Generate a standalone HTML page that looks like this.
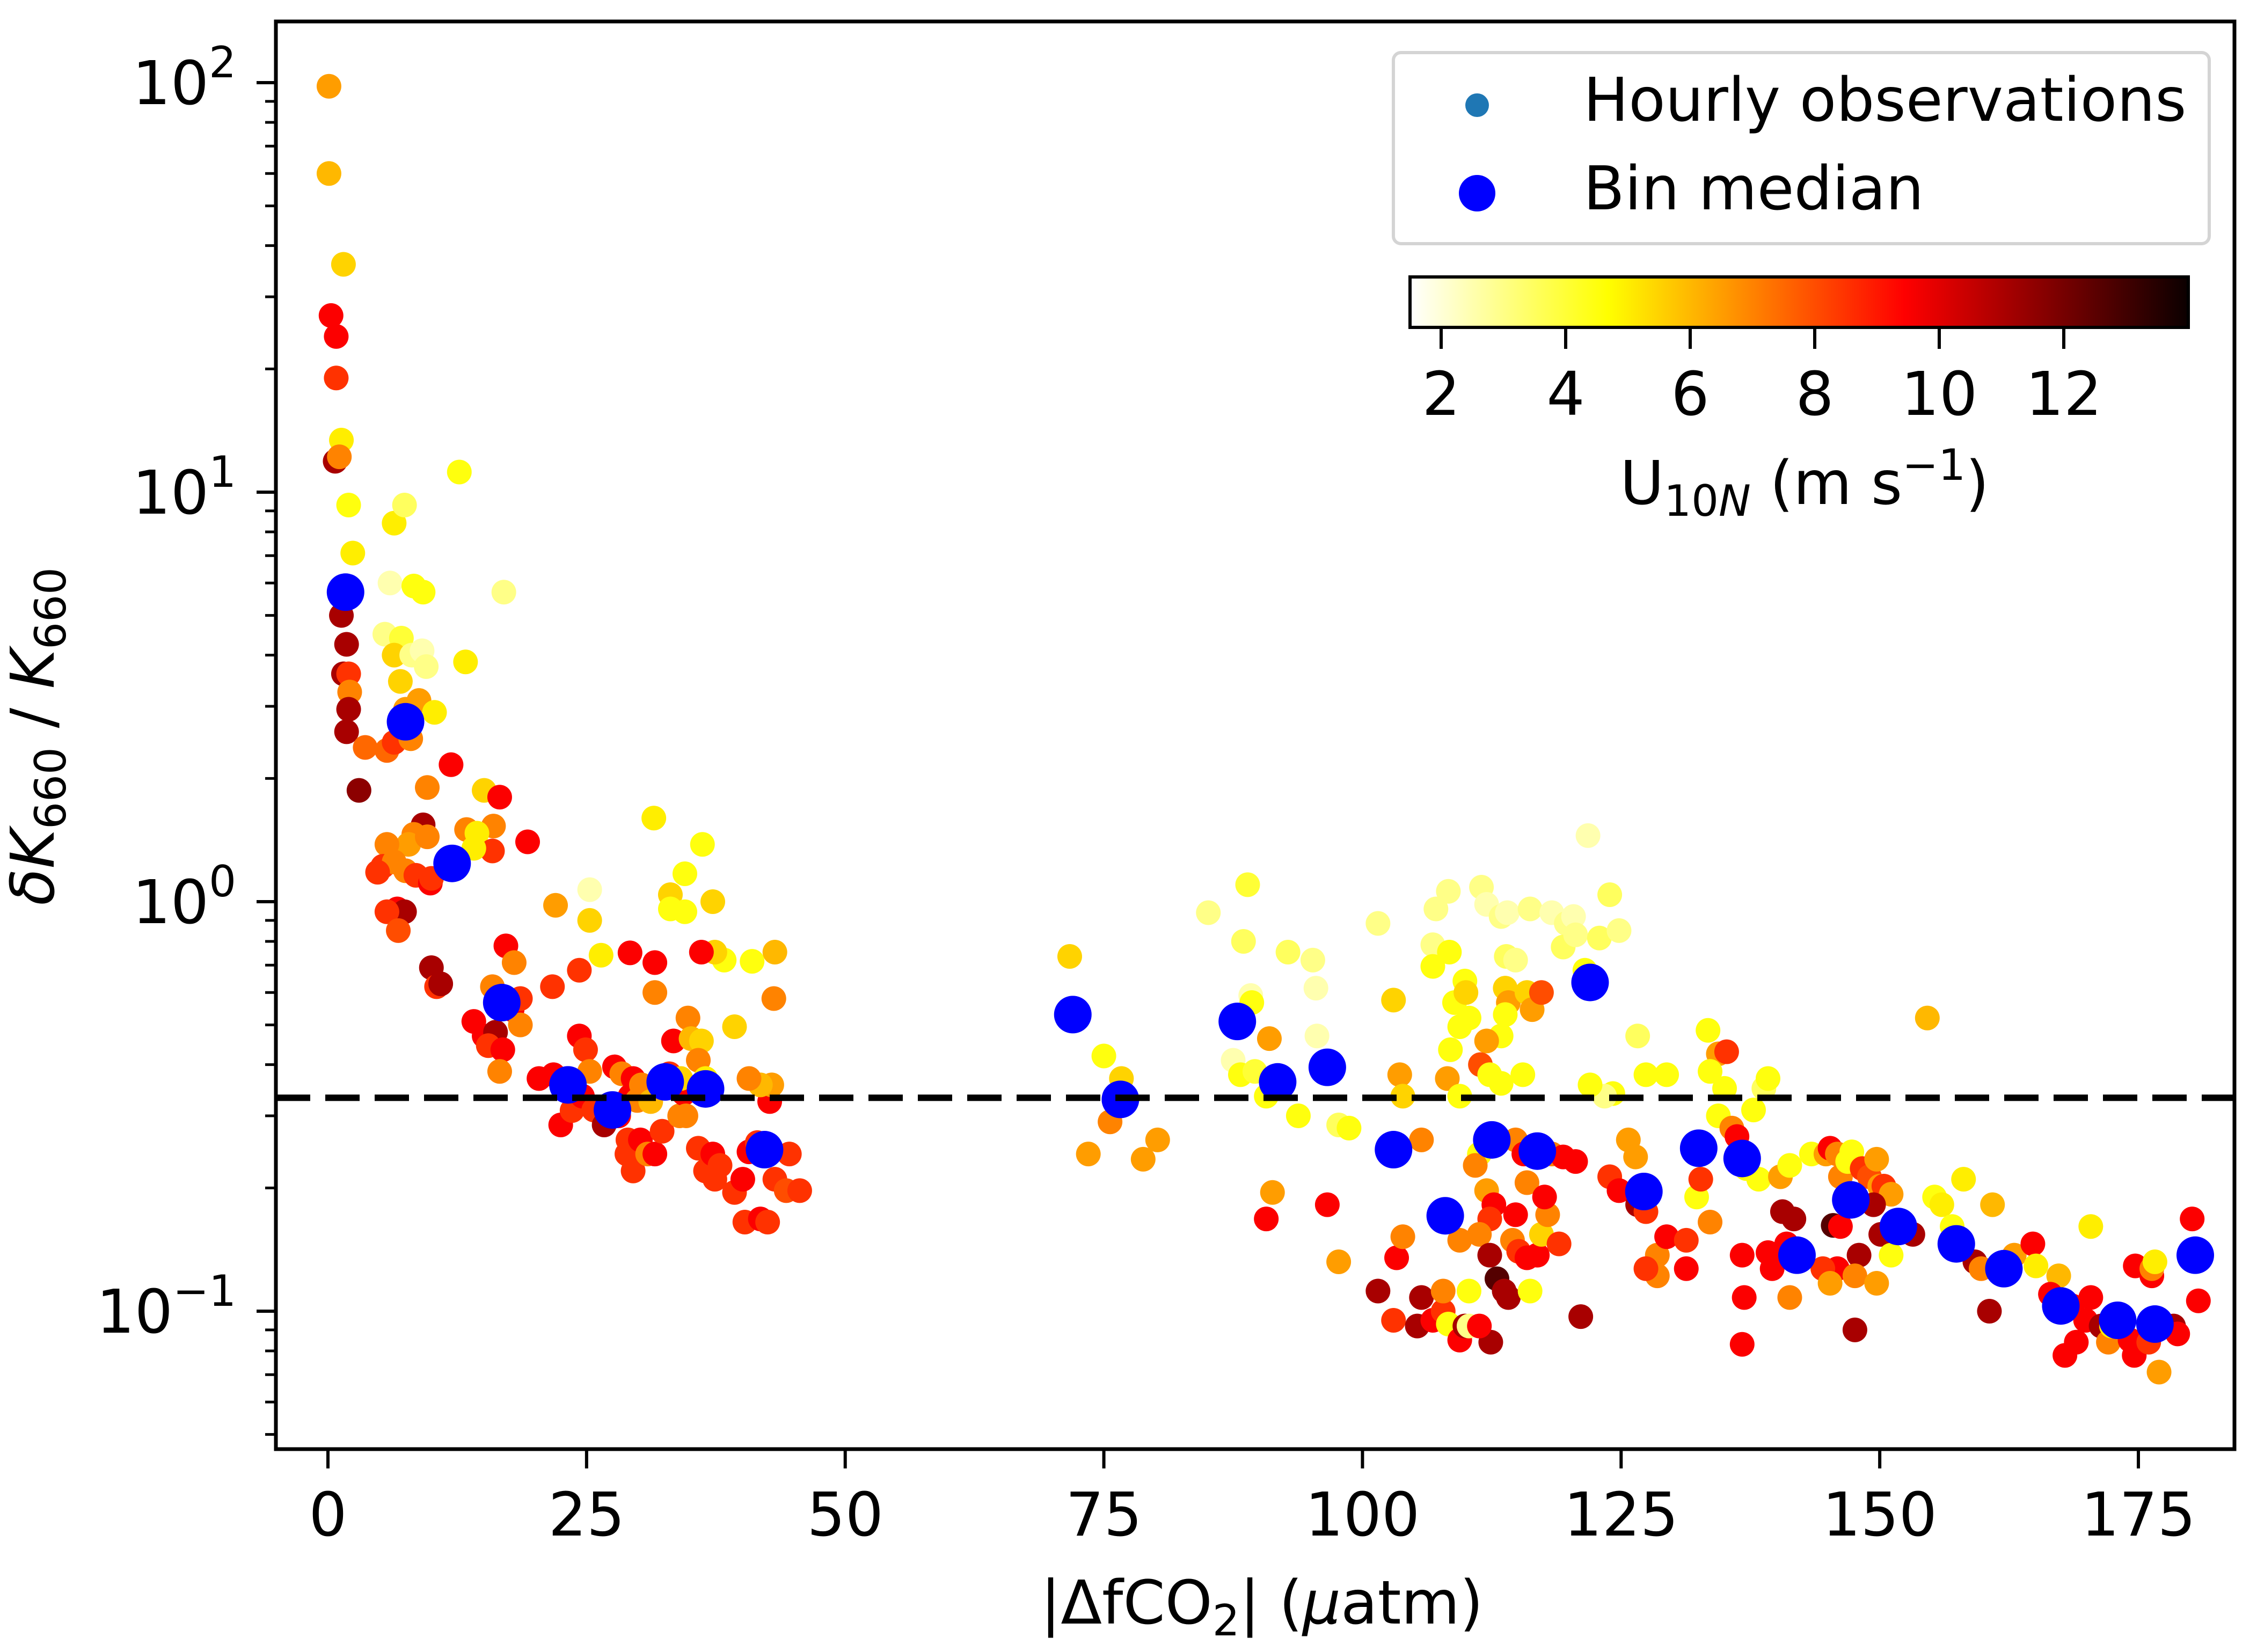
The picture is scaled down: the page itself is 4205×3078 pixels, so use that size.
<!DOCTYPE html>
<html><head><meta charset="utf-8"><style>
html,body{margin:0;padding:0;background:#fff;}
svg{display:block;font-family:"DejaVu Sans","Liberation Sans",sans-serif;}
</style></head><body>
<svg id="chart" width="4205" height="3078" viewBox="0 0 4205 3078" xmlns="http://www.w3.org/2000/svg">
<defs>
<linearGradient id="hotr" x1="0" x2="1" y1="0" y2="0">
<stop offset="0" stop-color="#ffffff"/><stop offset="0.254" stop-color="#ffff00"/>
<stop offset="0.635" stop-color="#ff0000"/><stop offset="1" stop-color="#0b0000"/>
</linearGradient>
<clipPath id="plotclip"><rect x="514" y="40" width="3649" height="2660"/></clipPath>
</defs>
<rect x="0" y="0" width="4205" height="3078" fill="#fff"/>
<g id="points" clip-path="url(#plotclip)"></g>
<g id="medians" clip-path="url(#plotclip)"></g>
<line id="refline" x1="514" x2="4163" stroke="#000" stroke-width="12" stroke-dasharray="64 28"/>
<g id="axes"></g>
<rect x="514" y="40" width="3649" height="2660" fill="none" stroke="#000" stroke-width="7"/>
<text x="2351" y="3025" font-size="112" text-anchor="middle">|ΔfCO<tspan font-size="80" dy="22">2</tspan><tspan dy="-22">| (</tspan><tspan font-style="italic">μ</tspan>atm)</text>
<text transform="translate(100,1372) rotate(-90)" font-size="112" text-anchor="middle"><tspan font-style="italic">δK</tspan><tspan font-size="80" dy="22">660</tspan><tspan dy="-22"> / </tspan><tspan font-style="italic">K</tspan><tspan font-size="80" dy="22">660</tspan></text>
<g>
<rect x="2596" y="98" width="1520" height="356" rx="14" fill="#fff" fill-opacity="0.9" stroke="#d4d4d4" stroke-width="6"/>
<circle cx="2752" cy="196" r="22" fill="#1f77b4"/>
<text x="2950" y="225" font-size="112">Hourly observations</text>
<circle cx="2752" cy="360" r="34" fill="#0000ff"/>
<text x="2950" y="390" font-size="112">Bin median</text>
</g>
<g id="cbar">
<rect x="2627" y="516" width="1450" height="94" fill="url(#hotr)" stroke="#000" stroke-width="6"/>
<text x="3362" y="939" font-size="112" text-anchor="middle">U<tspan font-size="80" dy="22">10</tspan><tspan font-size="80" font-style="italic">N</tspan><tspan dy="-22"> (m s</tspan><tspan font-size="80" dy="-45">−1</tspan><tspan dy="45">)</tspan></text>
</g>
</svg>
<script>
const xTicks = [0, 25, 50, 75, 100, 125, 150, 175];
const yDecades = [-1, 0, 1, 2];
const cbarTicks = [2, 4, 6, 8, 10, 12];
const refValue = 0.332;
const medX = [1.7,7.5,12,16.8,23.2,27.5,32.6,36.5,42.2,72,76.6,87.9,91.8,96.6,103,108,112.5,116.9,122,127.2,132.5,136.7,142,147.2,151.8,157.4,162,167.5,173,176.6,180.5];
const medY = [5.7,2.75,1.24,0.567,0.357,0.31,0.363,0.349,0.248,0.53,0.329,0.51,0.363,0.394,0.248,0.171,0.262,0.246,0.635,0.196,0.25,0.236,0.137,0.187,0.161,0.146,0.127,0.103,0.095,0.093,0.137];
const obs = [
[0.1,98,6.5],[0.1,60,6],[1.5,36,5.5],[0.3,27,9.5],[0.8,24,9.5],[0.8,19,8.5],[1.3,13.4,5],[0.7,11.9,11],[1.1,12.2,7],[2,9.3,4.5],[2.4,7.1,5],[6.4,8.4,5],[7.4,9.3,3.5],[12.7,11.2,4.5],[17,5.7,3],[6,6,2.5],[8.3,5.9,4.5],[9.2,5.7,4.5],[5.5,4.5,3],[7.1,4.4,4],[6.4,4,5.5],[8.1,4,3],[9.1,4.1,2.5],[9.5,3.75,3],[13.3,3.85,5],[7,3.45,5.5],[8.8,3.1,6.5],[7.5,2.95,6.5],[10.3,2.9,5],
[1.5,5.7,9.5],[1.3,5,11],[1.8,4.25,11],[1.5,3.6,11],[2,3.6,8.5],[2.1,3.25,7],[2,2.95,11],[1.8,2.6,11],[3.6,2.38,7.5],[3,1.87,11.5],[5.7,2.34,7.5],[6.4,2.45,8.5],[8,2.5,7],[11.9,2.16,9.5],[9.6,1.9,7],[15.1,1.87,5.5],[16.6,1.8,9.5],[16,1.53,7],[13.4,1.5,7],[14.4,1.47,5],[9.2,1.54,11],[8.3,1.46,7],[7.8,1.38,6.5],[9.6,1.44,7],[5.7,1.38,7],[5.3,1.22,8.5],[6.4,1.25,7],[7.5,1.19,7],[4.8,1.18,8.5],[8.5,1.16,8.5],[9.9,1.11,9.5],[6.7,0.96,9.5],[7.4,0.945,11],[5.7,0.945,8.5],[6.8,0.85,8],[10,1.14,8.5],[12,1.24,7],[15.9,1.33,8.5],[19.3,1.4,9.5],[14.1,1.35,5],
[10,0.69,11],[10.5,0.62,8.5],[10.9,0.63,11],[15.9,0.62,7],[17.2,0.78,9.5],[18,0.71,7],[17.8,0.545,9.5],[18.6,0.5,7],[14.1,0.51,9.5],[15.1,0.47,9.5],[16.2,0.48,11],[15.5,0.445,8.5],[16.9,0.435,9.5],[16.6,0.385,7],[18.6,0.58,8.5],[21.7,0.62,8.5],[22,0.98,6.5],[25.3,0.9,5.5],[24.3,0.68,8.5],[26.4,0.74,5],[25.3,1.07,2.5],
[20.4,0.37,9.5],[21.8,0.378,9.5],[22.5,0.285,9.5],[23.6,0.309,8.5],[24.3,0.47,9.5],[24.9,0.435,8.5],[25.3,0.385,7],[24.6,0.335,9.5],[25.7,0.31,8.5],[26.7,0.285,11],[27.7,0.395,9.5],[28.4,0.38,7],[28.1,0.3,9.5],[29,0.262,8.5],[29.2,0.335,9.5],[28.9,0.242,8.5],[30.2,0.262,9.5],[29.5,0.22,8.5],[30.9,0.242,7],[31.6,0.242,9.5],[32.3,0.275,8.5],[29.5,0.37,9.5],[30.3,0.357,7],[29.9,0.327,7],[31.2,0.325,6],[29.2,0.75,9.5],[31.6,0.71,9.5],[31.6,0.6,7],[31.5,1.6,5],
[33,0.38,8.5],[33.4,0.457,9.5],[33.7,0.357,6],[34,0.3,7],[34.4,0.34,9.5],[34.8,0.52,7],[35.1,0.463,6],[36.1,0.457,5.5],[35.8,0.41,7],[36.5,0.37,5],[34.6,0.3,7],[35.8,0.25,8.5],[36.5,0.22,8.5],[37.4,0.21,8.5],[37.2,0.242,9.5],[37.9,0.227,8.5],[39.3,0.195,8.5],[40.1,0.21,9.5],[40.3,0.165,8.5],[41.8,0.168,9.5],[42.5,0.165,8.5],[43.2,0.21,8.5],[44.3,0.197,8],[45.6,0.197,8.5],[44.6,0.242,8.5],[40.7,0.245,9.5],[41.5,0.258,8.5],[42.7,0.325,9.5],[42.9,0.357,6.5],[41.8,0.357,6],[40.7,0.37,7],[39.3,0.495,5.5],[43.1,0.58,7],[43.2,0.753,6],[41,0.715,4.5],[38.3,0.72,4.5],[37.4,0.753,5.5],[36.1,0.753,9.5],[37.2,1.0,5.5],[36.2,1.38,4.5],[34.5,1.17,4.5],[33.1,1.04,5.5],[33.1,0.96,4.5],[34.5,0.945,4.5],[34.1,0.37,5.5],
[71.7,0.735,5.5],[71.4,0.53,7],[72.1,0.54,4.5],[75,0.42,4.5],[76.7,0.37,5.5],[75.6,0.29,7],[73.5,0.242,6.5],[78.8,0.235,6.5],[80.2,0.262,6.5],
[85.1,0.94,3],[88.9,1.1,4],[88.5,0.8,3.5],[89.2,0.59,2.5],[89.3,0.567,4.5],[87.5,0.41,2.5],[88.2,0.378,4.5],[89.6,0.385,4],[92.8,0.753,3.5],[95.2,0.72,3],[95.5,0.615,2.5],[95.6,0.47,2.5],[93.8,0.3,4.5],[91,0.463,6.5],[90.7,0.335,4.5],[91.3,0.195,6.5],[90.7,0.168,9.5],[96.6,0.182,9.5],[97.7,0.285,3.5],[98.7,0.28,4.5],[97.7,0.132,6.5],[101.5,0.885,3],[103,0.575,5.5],[103.6,0.378,6.5],[103.9,0.335,5.5],
[101.5,0.112,11],[103,0.095,8.5],[103.3,0.135,9.5],[103.9,0.152,7],[105.7,0.108,11],[105.3,0.092,11],[106.8,0.095,9.5],[107.8,0.1,8.5],[108.3,0.093,4.5],[107.8,0.112,7],[109.4,0.085,9.5],[109.9,0.092,11],[110.3,0.092,3],[110.3,0.112,4.5],[109.4,0.149,7],[105.7,0.262,7],
[106.8,0.785,3],[106.8,0.695,4.5],[107.1,0.96,3],[108.3,1.06,3],[108.4,0.753,4.5],[108.9,0.567,4.5],[109.4,0.495,4.5],[108.5,0.435,4.5],[108.2,0.37,6.5],[109.4,0.335,4.5],[109.9,0.64,4.5],[110,0.6,5.5],[110.3,0.52,4.5],[111.5,1.085,3],[112,0.985,2.5],[113.4,0.92,3],[114,0.94,2.5],[113.9,0.735,3.5],[114.8,0.72,3],[113.8,0.615,5.5],[114.1,0.567,6.5],[113.8,0.53,4.5],[113.4,0.47,4.5],[112,0.457,6.5],[111.4,0.4,8],[112.3,0.378,4.5],[113.4,0.36,4.5],[115.9,0.6,5.5],[116.4,0.545,6.5],[117.3,0.6,8],[115.5,0.378,4.5],
[114.8,0.262,7],[115.6,0.242,9.5],[115.9,0.206,7],[111.3,0.242,4.5],[110.9,0.227,7],[112,0.197,6.5],[112.7,0.182,9.5],[112.3,0.168,8.5],[111.3,0.154,7],[112.3,0.137,11],[113,0.12,12.5],[113.7,0.112,11],[114.1,0.108,11],[112.4,0.084,11],[111.3,0.092,9.5],[114.8,0.172,9.5],[114.5,0.149,7],[115.1,0.14,8.5],[115.9,0.135,9.5],[116.2,0.112,4.5],[116.9,0.137,9.5],[117.3,0.154,5.5],[117.9,0.172,7],[119,0.146,8.5],[117.6,0.19,9.5],[118.3,0.242,7],[119.4,0.238,9.5],[120.6,0.232,9.5],[121.1,0.097,11],
[116.2,0.96,3],[118.3,0.94,2.5],[119.7,0.885,3],[120.4,0.92,2.5],[119.4,0.775,3.5],[120.6,0.83,3],[121.8,1.45,2.5],[121.5,0.68,4.5],[122.9,0.815,3.5],[123.9,1.04,3.5],[124.8,0.85,3],[124.2,0.34,4.5],[123.4,0.335,3],[122,0.357,4.5],
[126.6,0.47,3.5],[127.4,0.378,4.5],[125.7,0.262,6.5],[126.4,0.238,6.5],[123.9,0.213,8.5],[124.8,0.197,9.5],[126.6,0.182,11],[127.4,0.175,8.5],[128.5,0.137,7],[129.4,0.152,9.5],[128.5,0.122,7],[127.4,0.127,8.5],[131.3,0.127,9.5],[132.3,0.19,4.5],[132.7,0.21,8.5],[131.3,0.149,8.5],[133.6,0.165,7],[129.4,0.378,4.5],[133.4,0.485,4.5],[134.4,0.425,6.5],[135.2,0.43,8.5],[133.6,0.385,4.5],[135,0.35,4.5],[134.4,0.3,4.5],[135.7,0.28,7],[136.2,0.267,9.5],[136.7,0.137,9.5],[136.9,0.108,9.5],[136.7,0.083,9.5],[137.1,0.223,4.5],[138.3,0.21,4.5],[138.8,0.35,3.5],[139.2,0.37,4.5],[137.8,0.31,4.5],
[140.4,0.213,6.5],[141.3,0.227,4.5],[140.6,0.175,11],[141.7,0.168,11],[141,0.146,9.5],[141.3,0.108,7],[139.2,0.139,9.5],[139.6,0.127,9.5],[143.4,0.242,4.5],[144.8,0.242,6.5],[145.2,0.25,9.5],[145.9,0.242,7],[146.2,0.213,7],[146.9,0.232,4.5],[147.3,0.245,4.5],[148.3,0.223,8.5],[149,0.213,8],[149.7,0.235,6.5],[150,0.202,6.5],[150.4,0.202,8.5],[151.1,0.193,6.5],[149.4,0.182,11],[150.1,0.154,11],[145.5,0.162,12.5],[146.2,0.161,9.5],[148,0.137,11],[145.9,0.127,9.5],[144.5,0.127,8.5],[147.6,0.122,7],[145.2,0.117,6.5],[147.6,0.09,11],[149.7,0.117,6.5],[151.1,0.137,4.5],[153.2,0.154,11],
[154.6,0.52,6],[155.3,0.19,4.5],[156,0.182,5],[158.1,0.21,5],[157,0.161,4.5],[159.2,0.132,11],[159.8,0.127,7],[160.9,0.182,6],[160.6,0.1,11],[162.3,0.127,9.5],[163,0.137,6.5],[164.8,0.146,9.5],[165.1,0.129,5],[167.3,0.122,6],[166.5,0.11,9.5],[168.6,0.103,9.5],[169,0.084,9.5],[167.9,0.078,9.5],[170.4,0.161,5],[170.4,0.108,9.5],[169.9,0.095,9.5],[171.4,0.092,11],[172.1,0.084,7],[172.4,0.092,5],[174.2,0.085,9.5],[174.6,0.078,9.5],[173.3,0.093,8.5],[174.7,0.129,9.5],[176.3,0.122,9.5],[176.3,0.127,7],[176.6,0.132,5],[176,0.084,8.5],[177,0.071,6.5],[178.4,0.092,11],[180.2,0.168,9.5],[180.8,0.106,9.5],[178.8,0.088,9.5]
];

const NS = "http://www.w3.org/2000/svg";
const PL = 514, PR = 4163, PT = 40, PB = 2700;
function xs(v){ return 611 + v * (3984 - 611) / 175; }
function ys(v){ return 1680 - Math.log10(v) * 763; }
const UMIN = 1.5, UMAX = 14;
function hotr(u){
  let t = Math.max(0, Math.min(1, (u - UMIN) / (UMAX - UMIN)));
  let s = 1 - t;
  let r = Math.min(1, s / 0.365), g = Math.max(0, Math.min(1, (s - 0.365) / 0.381)), b = Math.max(0, Math.min(1, (s - 0.746) / 0.254));
  r = Math.max(r, 0.04);
  return "rgb(" + Math.round(r*255) + "," + Math.round(g*255) + "," + Math.round(b*255) + ")";
}
function mk(tag, attrs, parent){ const e = document.createElementNS(NS, tag); for (const k in attrs) e.setAttribute(k, attrs[k]); parent.appendChild(e); return e; }

const gp = document.getElementById("points");
obs.forEach(function(p){
  const c = mk("circle", {cx: xs(p[0]), cy: ys(p[1]), r: 23, fill: hotr(p[2])}, gp);
  
  
});
const gm = document.getElementById("medians");
medX.forEach(function(x, i){
  const c = mk("circle", {cx: xs(x), cy: ys(medY[i]), r: 35, fill: "#0000ff"}, gm);
  
  
});
const rl = document.getElementById("refline");
rl.setAttribute("y1", ys(refValue)); rl.setAttribute("y2", ys(refValue));

const ga = document.getElementById("axes");
xTicks.forEach(function(t){
  const X = xs(t);
  const l = mk("line", {x1: X, x2: X, y1: PB, y2: PB + 36, stroke: "#000", "stroke-width": 6}, ga);
  
  
  const tx = mk("text", {x: X, y: 2861, "font-size": 112, "text-anchor": "middle"}, ga);
  tx.textContent = String(t);
  
  
});
yDecades.forEach(function(d){
  const Y = ys(Math.pow(10, d));
  const l = mk("line", {x1: PL - 36, x2: PL, y1: Y, y2: Y, stroke: "#000", "stroke-width": 6}, ga);
  
  
  const tx = mk("text", {x: 440, y: Y + 40, "font-size": 112, "text-anchor": "end"}, ga);
  
  
  const t1 = mk("tspan", {}, tx); t1.textContent = "10";
  const t2 = mk("tspan", {"font-size": 80, dy: -50}, tx); t2.textContent = d < 0 ? "−" + (-d) : String(d);
  for (let m = 2; m <= 9; m++){
    const v = m * Math.pow(10, d);
    const yy = ys(v);
    if (yy < PT || yy > PB) continue;
    const ml = mk("line", {x1: PL - 20, x2: PL, y1: yy, y2: yy, stroke: "#000", "stroke-width": 5}, ga);
    
    
  }
});
for (let m = 5; m <= 9; m++){
  const yy = ys(m * 0.01);
  if (yy > PB) continue;
  const ml = mk("line", {x1: PL - 20, x2: PL, y1: yy, y2: yy, stroke: "#000", "stroke-width": 5}, ga);
  
  
}
const gc = document.getElementById("cbar");
function cx(u){ return 2627 + (u - UMIN) / (UMAX - UMIN) * 1450; }
cbarTicks.forEach(function(t){
  const X = cx(t);
  const l = mk("line", {x1: X, x2: X, y1: 613, y2: 650, stroke: "#000", "stroke-width": 6}, gc);
  
  
  const tx = mk("text", {x: X, y: 773, "font-size": 112, "text-anchor": "middle"}, gc);
  tx.textContent = String(t);
  
  
});
</script>
</body></html>
